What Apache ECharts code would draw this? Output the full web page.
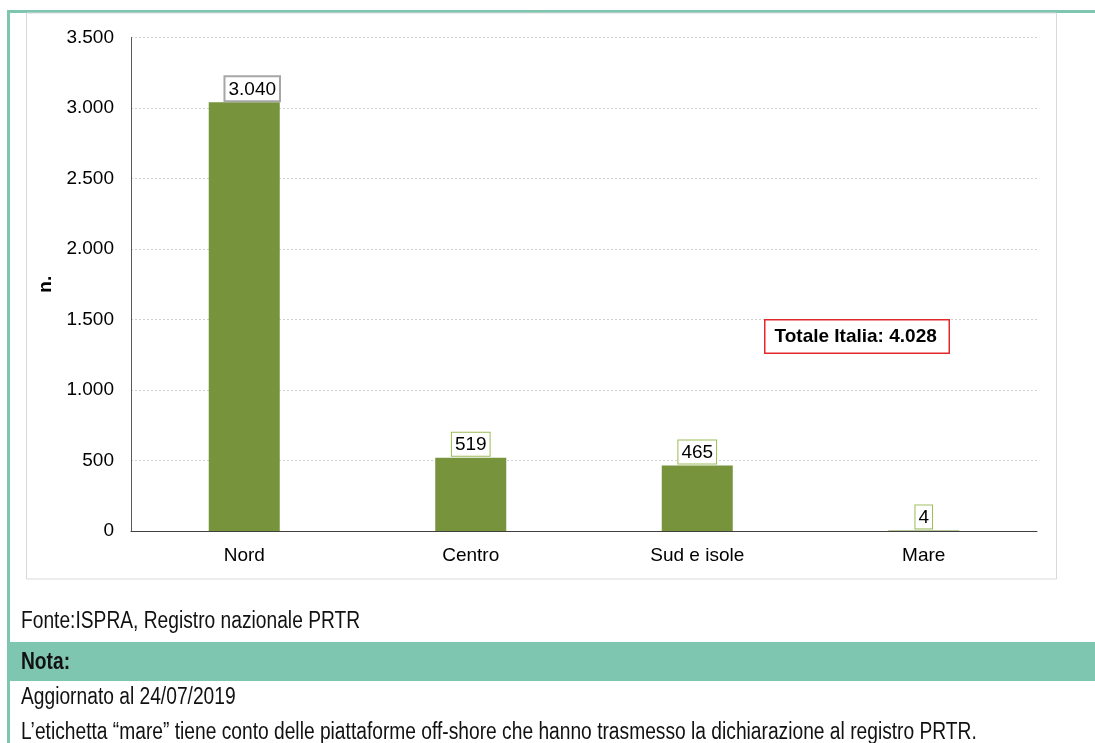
<!DOCTYPE html>
<html>
<head>
<meta charset="utf-8">
<script src="https://cdn.jsdelivr.net/npm/echarts@6/dist/echarts.min.js"></script>
<style>
  html, body { margin: 0; padding: 0; background: #fff; }
  #chart { width: 1095px; height: 743px; }
</style>
</head>
<body>
<div id="chart"></div>
<script>
// dati
const categories = ['Nord', 'Centro', 'Sud e isole', 'Mare'];
const impianti = [3040, 519, 465, 4];
const totaleLabel = 'Totale Italia: 4.028';
const fonte = 'Fonte:ISPRA, Registro nazionale PRTR';
const notaTitle = 'Nota:';
const noteLines = [
  'Aggiornato al 24/07/2019',
  'L\u2019etichetta \u201cmare\u201d tiene conto delle piattaforme off-shore che hanno trasmesso la dichiarazione al registro PRTR.'
];

const teal = '#7fc6b0';
const green = '#77933c';
const chartFont = '"Liberation Sans", Arial, sans-serif';
// niente Arial Narrow: Liberation Sans stretta in orizzontale
const narrowScale = 0.835;

function fmt(v) {
  return String(v).replace(/\B(?=(\d{3})+(?!\d))/g, '.');
}

function noteText(str, cy, bold) {
  return {
    type: 'text', x: 21, y: cy - 10, scaleX: narrowScale,
    style: { text: str, font: (bold ? 'bold ' : '') + '23px ' + chartFont, fill: '#111' }
  };
}

const chart = echarts.init(document.getElementById('chart'));

const barData = impianti.map(function (v, i) {
  const item = { value: v };
  if (i === 0) {
    item.label = { borderColor: '#a6a6a6', borderWidth: 2, offset: [8, 0] };
  }
  return item;
});

const option = {
  animation: false,
  textStyle: { fontFamily: chartFont },
  grid: { left: 131, right: 58, top: 37.5, bottom: 212 },
  xAxis: {
    type: 'category',
    data: categories,
    axisTick: { show: false },
    axisLine: { lineStyle: { color: '#404040', width: 1 } },
    axisLabel: { color: '#000', fontSize: 19, margin: 15, fontFamily: chartFont }
  },
  yAxis: {
    type: 'value',
    min: 0,
    max: 3500,
    interval: 500,
    name: 'n.',
    nameLocation: 'middle',
    nameGap: 75,
    nameTextStyle: { color: '#000', fontSize: 19, fontWeight: 'bold', fontFamily: chartFont },
    axisLine: { show: true, lineStyle: { color: '#595959', width: 1 } },
    axisTick: { show: false },
    axisLabel: { color: '#000', fontSize: 19, margin: 17, padding: [4, 0, 0, 0], fontFamily: chartFont, formatter: fmt },
    splitLine: { lineStyle: { color: '#d0d0d0', type: [2, 2], width: 1 } }
  },
  series: [{
    type: 'bar',
    data: barData,
    barWidth: 71,
    itemStyle: { color: green },
    label: {
      show: true,
      position: 'top',
      distance: 2,
      color: '#000',
      fontSize: 19,
      fontFamily: chartFont,
      lineHeight: 20,
      padding: [2, 3, 1, 3],
      borderColor: '#9bbb59',
      borderWidth: 1,
      backgroundColor: '#fff',
      formatter: function (p) { return fmt(p.value); }
    }
  }],
  graphic: [
    // cornice
    { type: 'rect', z: -10, shape: { x: 7, y: 10, width: 1100, height: 3 }, style: { fill: teal } },
    { type: 'rect', z: -10, shape: { x: 7, y: 10, width: 3, height: 740 }, style: { fill: teal } },
    { type: 'rect', z: -10, shape: { x: 26.5, y: 13, width: 1030, height: 566 }, style: { fill: 'none', stroke: '#d9d9d9', lineWidth: 1 } },
    // totale
    {
      type: 'text', left: 764, top: 319, z: 10,
      style: {
        text: totaleLabel, font: 'bold 19px ' + chartFont, fill: '#000',
        width: 165, height: 23, lineHeight: 23,
        padding: [5, 9, 4, 9], borderColor: '#e0282d', borderWidth: 1.5, backgroundColor: '#fff'
      }
    },
    // fonte e note
    { type: 'rect', z: -5, shape: { x: 10, y: 642, width: 1090, height: 39 }, style: { fill: teal } },
    noteText(fonte, 620, false),
    noteText(notaTitle, 661, true),
    noteText(noteLines[0], 696, false),
    noteText(noteLines[1], 731, false)
  ]
};

chart.setOption(option);
</script>
</body>
</html>
